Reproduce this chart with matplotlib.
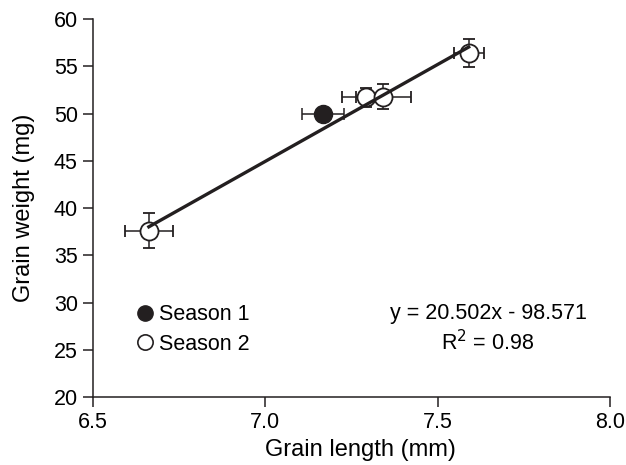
import numpy as np
import matplotlib.pyplot as plt
from matplotlib.lines import Line2D

plt.rcParams['font.family'] = ['Liberation Sans', 'DejaVu Sans']

# Season 1 (filled)
s1_len = [7.168]
s1_wt = [49.9]
s1_len_err = [0.061]
s1_wt_err = [0.6]

# Season 2 (open)
s2_len = [6.662, 7.292, 7.342, 7.590]
s2_wt = [37.6, 51.7, 51.8, 56.4]
s2_len_err = [0.070, 0.070, 0.080, 0.044]
s2_wt_err = [1.85, 1.0, 1.3, 1.45]

slope, intercept = 20.502, -98.571
ink = '#231f20'
fs = 15.5
lab_fs = 17

fig = plt.figure(figsize=(6.26, 4.65), dpi=100)
ax = fig.add_axes([0.1486, 0.1462, 0.8258, 0.8128])

ax.errorbar(s1_len, s1_wt, xerr=s1_len_err, yerr=s1_wt_err, fmt='o', color=ink,
            mfc=ink, mec=ink, ms=13, elinewidth=1.1, capsize=4.5, capthick=1.1, zorder=3)
ax.errorbar(s2_len, s2_wt, xerr=s2_len_err, yerr=s2_wt_err, fmt='o', color=ink,
            mfc='white', mec=ink, mew=1.3, ms=13, elinewidth=1.1, capsize=4.5,
            capthick=1.1, zorder=3)

all_x = np.array(s1_len + s2_len)
xs = np.array([all_x.min(), all_x.max()])
ax.plot(xs, slope * xs + intercept, color=ink, lw=2.4, zorder=4)

ax.set_xlim(6.5, 8.0)
ax.set_ylim(20, 60)
ax.set_xticks([6.5, 7.0, 7.5, 8.0])
ax.set_xticklabels(['6.5', '7.0', '7.5', '8.0'])
ax.set_yticks(np.arange(20, 61, 5))
ax.spines['top'].set_visible(False)
ax.spines['right'].set_visible(False)
for s in ['left', 'bottom']:
    ax.spines[s].set_linewidth(1.1)
    ax.spines[s].set_color(ink)
ax.tick_params(direction='out', length=7.5, width=1.1, color=ink, labelsize=fs, pad=3.5)
ax.set_xlabel('Grain length (mm)', fontsize=lab_fs)
ax.set_ylabel('Grain weight (mg)', fontsize=lab_fs)
ax.xaxis.set_label_coords(0.518, -0.11)
ax.yaxis.set_label_coords(-0.112, 0.5)

handles = [Line2D([], [], marker='o', ls='none', color=ink, mfc=ink, ms=11),
           Line2D([], [], marker='o', ls='none', color=ink, mfc='white', mew=1.2, ms=11)]
ax.legend(handles, ['Season 1', 'Season 2'], loc='upper left', bbox_to_anchor=(0.055, 0.274),
          frameon=False, fontsize=fs, handletextpad=0.05, handlelength=1.2,
          labelspacing=0.4, borderpad=0)

ax.text(0.764, 0.222, 'y = 20.502x - 98.571', transform=ax.transAxes,
        ha='center', va='center', fontsize=fs)
ax.text(0.764, 0.143, 'R$^2$ = 0.98', transform=ax.transAxes,
        ha='center', va='center', fontsize=fs)

fig.savefig('out.png', dpi=100)
